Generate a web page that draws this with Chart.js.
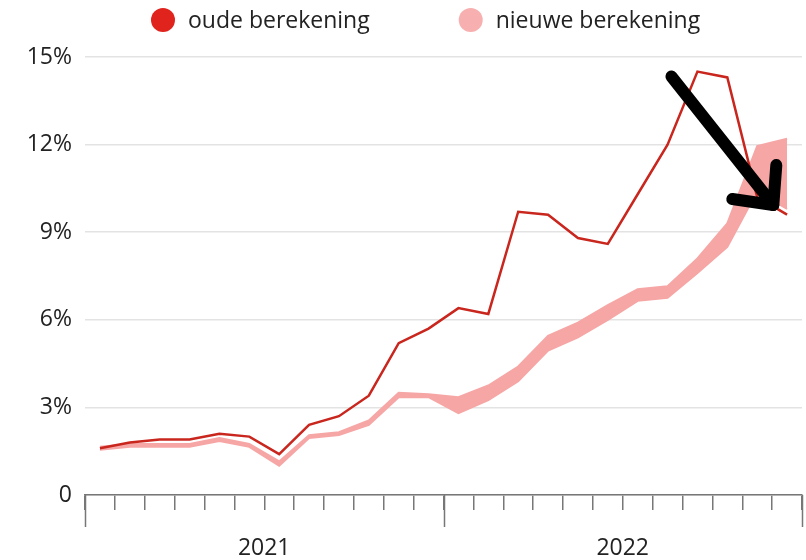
<!DOCTYPE html>
<html>
<head>
    <title>Inflatie oude en nieuwe berekening</title>
    <script src="https://cdn.jsdelivr.net/npm/chart.js"></script>
    <style>
        body { margin: 0; background: #fff; }
        #wrap { width: 806px; height: 560px; }
    </style>
</head>
<body>
    <div id="wrap"><canvas id="myChart"></canvas></div>
    <script>
        const maanden = ['jan 2021', 'feb 2021', 'mrt 2021', 'apr 2021', 'mei 2021', 'jun 2021',
                         'jul 2021', 'aug 2021', 'sep 2021', 'okt 2021', 'nov 2021', 'dec 2021',
                         'jan 2022', 'feb 2022', 'mrt 2022', 'apr 2022', 'mei 2022', 'jun 2022',
                         'jul 2022', 'aug 2022', 'sep 2022', 'okt 2022', 'nov 2022', 'dec 2022'];
        const jaren = ['2021', '2022'];
        const yTicks = [0, 3, 6, 9, 12, 15];

        const oudeBerekening = [1.6, 1.8, 1.9, 1.9, 2.1, 2.0, 1.4, 2.4, 2.7, 3.4, 5.2, 5.7,
                                6.4, 6.2, 9.7, 9.6, 8.8, 8.6, 10.3, 12.0, 14.5, 14.3, 10.2, 9.6];
        // nieuwe berekening is a range: upper and lower edge
        const nieuweHoog = [1.65, 1.75, 1.75, 1.75, 1.95, 1.75, 1.15, 2.05, 2.15, 2.55, 3.5, 3.45,
                            3.35, 3.75, 4.4, 5.45, 5.9, 6.5, 7.05, 7.15, 8.1, 9.3, 11.95, 12.2];
        const nieuweLaag = [1.55, 1.65, 1.65, 1.65, 1.85, 1.65, 1.0, 1.95, 2.05, 2.4, 3.35, 3.35,
                            2.8, 3.25, 3.9, 4.95, 5.4, 6.0, 6.65, 6.75, 7.6, 8.5, 10.4, 9.8];

        const legendaTeksten = ['oude berekening', 'nieuwe berekening'];
        const rood = '#c9261e';
        const roze = '#f6a6a5';
        const legendaKleuren = ['#e0231c', '#f7b0af'];

        // arrow drawn over the chart, in data units (month index, percent)
        const pijlStart = [19.13, 14.33];
        const pijlPunt = [22.54, 9.93];

        Chart.defaults.font.family = "'Open Sans', sans-serif";
        Chart.defaults.color = '#222';

        const legendaPlugin = {
            id: 'legenda',
            afterDraw(chart) {
                const ctx = chart.ctx;
                ctx.save();
                ctx.font = "23px 'Open Sans'";
                ctx.textBaseline = 'middle';
                let x = 151;
                legendaTeksten.forEach((tekst, i) => {
                    ctx.fillStyle = legendaKleuren[i];
                    ctx.beginPath();
                    ctx.arc(x + 12, 20, 12, 0, Math.PI * 2);
                    ctx.fill();
                    ctx.fillStyle = '#222';
                    ctx.fillText(tekst, x + 37, 21);
                    x += 37 + ctx.measureText(tekst).width + 89;
                });
                ctx.restore();
            }
        };

        const jaarStreepjes = {
            id: 'jaarStreepjes',
            afterDraw(chart) {
                const xs = chart.scales.x;
                const ctx = chart.ctx;
                const bottom = chart.chartArea.bottom;
                const grenzen = [];
                maanden.forEach((m, i) => { if (m.startsWith('jan')) grenzen.push(i); });
                grenzen.push(maanden.length);
                ctx.save();
                ctx.strokeStyle = '#777';
                ctx.lineWidth = 1.5;
                grenzen.forEach(i => {
                    const px = Math.round(xs.getPixelForValue(i - 0.5)) + 0.5;
                    ctx.beginPath();
                    ctx.moveTo(px, bottom);
                    ctx.lineTo(px, bottom + 32);
                    ctx.stroke();
                });
                ctx.restore();
            }
        };

        const pijlPlugin = {
            id: 'pijl',
            afterDraw(chart) {
                const xs = chart.scales.x, ys = chart.scales.y;
                const ctx = chart.ctx;
                const sx = xs.getPixelForValue(pijlStart[0]), sy = ys.getPixelForValue(pijlStart[1]);
                const tx = xs.getPixelForValue(pijlPunt[0]), ty = ys.getPixelForValue(pijlPunt[1]);
                ctx.save();
                ctx.strokeStyle = '#000';
                ctx.lineWidth = 12;
                ctx.lineCap = 'round';
                ctx.lineJoin = 'round';
                ctx.beginPath();
                ctx.moveTo(sx, sy);
                ctx.lineTo(tx, ty);
                ctx.stroke();
                ctx.beginPath();
                ctx.moveTo(tx + 3, ty - 40);
                ctx.lineTo(tx, ty);
                ctx.lineTo(tx - 41, ty - 6);
                ctx.stroke();
                ctx.restore();
            }
        };

        const ctx = document.getElementById('myChart').getContext('2d');
        new Chart(ctx, {
            type: 'line',
            data: {
                labels: maanden,
                datasets: [{
                    label: legendaTeksten[0],
                    data: oudeBerekening,
                    borderColor: rood,
                    borderWidth: 2.5,
                    fill: false
                }, {
                    label: legendaTeksten[1],
                    data: nieuweHoog,
                    borderColor: roze,
                    backgroundColor: roze,
                    borderWidth: 2,
                    fill: '+1'
                }, {
                    label: legendaTeksten[1] + ' (onder)',
                    data: nieuweLaag,
                    borderColor: roze,
                    borderWidth: 2,
                    fill: false
                }]
            },
            options: {
                responsive: true,
                maintainAspectRatio: false,
                animation: false,
                layout: { padding: { top: 57, left: 18, right: 4, bottom: 0 } },
                elements: {
                    point: { radius: 0 },
                    line: { tension: 0, borderJoinStyle: 'miter' }
                },
                plugins: {
                    legend: { display: false },
                    tooltip: { enabled: false }
                },
                scales: {
                    x: {
                        type: 'category',
                        offset: true,
                        afterFit: axis => {
                            axis.height = 65;
                            axis.paddingLeft = 0;
                            axis.paddingRight = 0;
                        },
                        grid: {
                            offset: true,
                            drawOnChartArea: false,
                            tickLength: 15,
                            color: '#777',
                            lineWidth: 1.5
                        },
                        border: { display: true, color: '#777', width: 1.5 },
                        ticks: {
                            autoSkip: false,
                            maxRotation: 0,
                            labelOffset: -15,
                            padding: 25,
                            font: { size: 23 },
                            color: '#222',
                            callback: (v, i) => {
                                if (maanden[i].startsWith('jul')) return maanden[i].slice(-4);
                                return '';
                            }
                        }
                    },
                    y: {
                        min: 0,
                        max: 15,
                        afterBuildTicks: axis => { axis.ticks = yTicks.map(v => ({ value: v })); },
                        afterFit: axis => { axis.width = 67; },
                        grid: { color: '#e3e3e3', lineWidth: 1.5, drawTicks: false },
                        border: { display: false },
                        ticks: {
                            padding: 13,
                            font: { size: 23 },
                            color: '#222',
                            callback: v => v === 0 ? '0' : v + '%'
                        }
                    }
                }
            },
            plugins: [legendaPlugin, jaarStreepjes, pijlPlugin]
        });
    </script>
</body>
</html>
